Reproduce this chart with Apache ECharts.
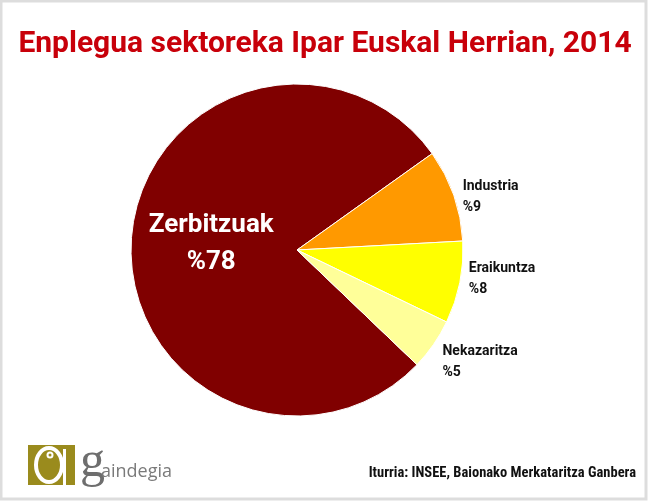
<!DOCTYPE html>
<html>
<head>
<meta charset="utf-8">
<script src="https://cdn.jsdelivr.net/npm/echarts@6/dist/echarts.min.js"></script>
<style>
html,body{margin:0;padding:0;background:#fff;}
#chart{width:650px;height:504px;}
</style>
</head>
<body>
<div id="chart"></div>
<script>
const titleText = 'Enplegua sektoreka Ipar Euskal Herrian, 2014';
const sourceText = 'Iturria: INSEE, Baionako Merkataritza Ganbera';
const categories = ['Zerbitzuak', 'Industria', 'Eraikuntza', 'Nekazaritza'];
const values = [78, 9, 8, 5];
const colors = ['#800000', '#FF9900', '#FFFF00', '#FFFF99'];

const chart = echarts.init(document.getElementById('chart'), null, {renderer: 'canvas'});
const sans = 'Roboto';
const olive = '#9A8B1D';

const data = categories.map((name, i) => {
  const item = {name: name, value: values[i], itemStyle: {color: colors[i]}};
  if (i === 0) {
    item.label = {position: 'inside', color: '#fff', fontSize: 26, lineHeight: 37};
  }
  return item;
});

chart.setOption({
  backgroundColor: '#fff',
  animation: false,
  title: {
    text: titleText,
    left: 'center',
    top: 24,
    textStyle: {fontFamily: sans, fontWeight: 'bold', fontSize: 30, color: '#C8000A'}
  },
  series: [{
    type: 'pie',
    center: [297, 250],
    radius: [0, 166],
    startAngle: 316.3,
    clockwise: true,
    avoidLabelOverlap: false,
    data: data,
    itemStyle: {borderColor: '#fff', borderWidth: 1},
    label: {
      show: true,
      position: 'outside',
      formatter: '{b}\n%{c}',
      fontFamily: sans,
      fontWeight: 'bold',
      fontSize: 14,
      lineHeight: 21,
      color: '#111'
    },
    labelLine: {show: false, length: 0, length2: 4},
    labelLayout: function (p) {
      if (p.dataIndex === 1) return {dy: 2};
      if (p.dataIndex === 2) return {dy: -4};
      if (p.dataIndex === 3) return {dy: 17};
      return {};
    },
    emphasis: {disabled: true}
  }],
  graphic: [
    {type: 'rect', shape: {x: 1, y: 1, width: 645, height: 498}, style: {fill: 'none', stroke: '#DDDDDD', lineWidth: 3}, silent: true},
    {type: 'rect', shape: {x: 28, y: 445, width: 47, height: 40}, style: {fill: olive}},
    {type: 'rect', shape: {x: 63, y: 449, width: 3, height: 36}, style: {fill: '#fff'}},
    {type: 'ellipse', shape: {cx: 49, cy: 465, rx: 13, ry: 17}, style: {fill: olive, stroke: '#fff', lineWidth: 4}},
    {type: 'circle', shape: {cx: 50, cy: 455, r: 3.5}, style: {fill: '#fff'}},
    {type: 'circle', shape: {cx: 50, cy: 455, r: 1.5}, style: {fill: olive}},
    {type: 'text', left: 80, top: 438, style: {text: 'g', font: '50px "Liberation Serif"', fill: '#6E6E6E'}},
    {type: 'text', left: 101, top: 463, style: {text: 'aindegia', font: '18px "Open Sans"', fill: '#7A7A7A'}},
    {type: 'text', right: 14, top: 466, style: {text: sourceText, font: 'bold 14.5px "Roboto Condensed"', fill: '#111'}}
  ]
});
</script>
</body>
</html>
